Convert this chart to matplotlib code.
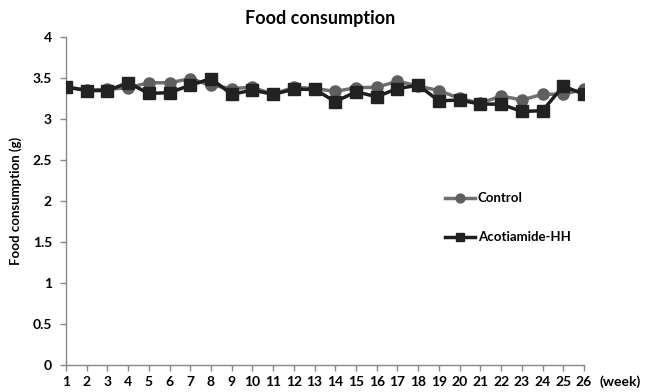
import matplotlib
matplotlib.use("Agg")
import matplotlib.pyplot as plt

weeks = list(range(1, 27))
control = [3.39, 3.35, 3.36, 3.38, 3.44, 3.44, 3.49, 3.41, 3.37, 3.385, 3.30, 3.385, 3.37,
           3.335, 3.38, 3.385, 3.46, 3.40, 3.345, 3.25, 3.19, 3.28, 3.23, 3.30, 3.30, 3.36]
acotiamide = [3.39, 3.345, 3.345, 3.44, 3.31, 3.32, 3.41, 3.49, 3.30, 3.35, 3.30, 3.36, 3.36,
              3.21, 3.33, 3.27, 3.37, 3.41, 3.22, 3.23, 3.18, 3.18, 3.09, 3.10, 3.40, 3.30]
yticks = [0, 0.5, 1, 1.5, 2, 2.5, 3, 3.5, 4]
ytick_labels = ["0", "0.5", "1", "1.5", "2", "2.5", "3", "3.5", "4"]

plt.rcParams['font.family'] = ['Lato', 'DejaVu Sans']
plt.rcParams['font.weight'] = 'bold'

fig = plt.figure(figsize=(6.46, 3.92), dpi=100)
ax = fig.add_axes([0.102, 0.069, 0.802, 0.837])

ax.plot(weeks, control, color='#707070', lw=2.5, marker='o', ms=8,
        mfc='#5f5f5f', mec='#5f5f5f', label='Control', zorder=3)
ax.plot(weeks, acotiamide, color='#1e1e1e', lw=2.5, marker='s', ms=8,
        mfc='#222222', mec='#222222', label='Acotiamide-HH', zorder=4)

ax.set_xlim(1, 26)
ax.set_ylim(0, 4)
ax.set_xticks(weeks)
ax.set_xticklabels([str(w) for w in weeks], fontsize=10, fontweight='bold')
ax.set_yticks(yticks)
ax.set_yticklabels(ytick_labels, fontsize=10, fontweight='bold')
for s in ['top', 'right']:
    ax.spines[s].set_visible(False)
for s in ['left', 'bottom']:
    ax.spines[s].set_color('#888888')
    ax.spines[s].set_linewidth(1.0)
ax.tick_params(axis='both', direction='out', color='#888888', length=4, width=1)
ax.tick_params(axis='x', pad=4)
ax.tick_params(axis='y', pad=6)

ax.set_ylabel('Food consumption (g)', fontsize=9.5, fontweight='bold', labelpad=8)
fig.text(0.495, 0.953, 'Food consumption', ha='center', va='center',
         fontsize=13, fontweight='bold')
fig.text(0.928, 0.026, '(week)', ha='left', va='center', fontsize=10, fontweight='bold')

fig.legend(loc='upper left', bbox_to_anchor=(0.67, 0.54), frameon=False,
           handlelength=2.3, handletextpad=0.2, labelspacing=2.05, markerscale=0.8,
           prop={'size': 9.5, 'weight': 'bold'})

fig.savefig('out.png', dpi=100)
